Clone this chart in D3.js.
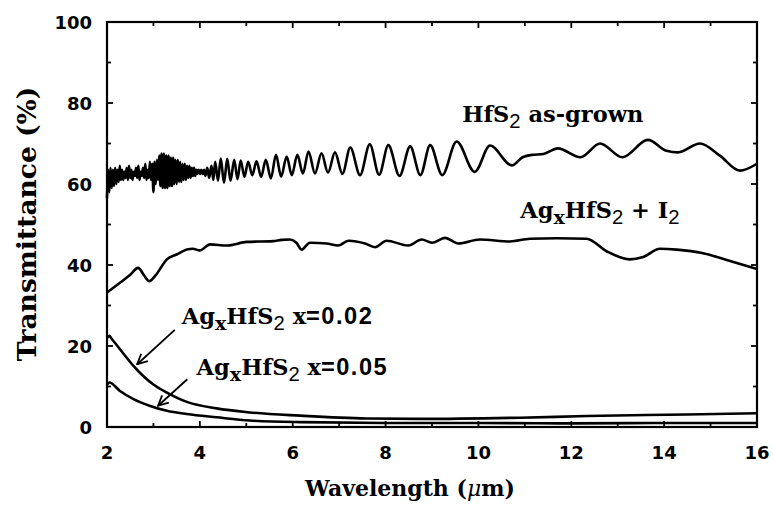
<!DOCTYPE html>
<html><head><meta charset="utf-8">
<script src="https://cdn.jsdelivr.net/npm/d3@7"></script>
<style>
html,body{margin:0;padding:0;background:#fff;}
svg{display:block;}
</style></head><body>
<svg id="chart" width="773" height="505"></svg>
<script>
// Infrared transmittance spectra: [wavelength (µm), transmittance (%)]
const asGrown = [
  [2.000,56.5],[2.025,63.5],[2.050,58.0],[2.075,64.0],[2.100,59.0],[2.125,63.5],[2.150,59.5],[2.175,64.0],
  [2.200,60.0],[2.225,63.5],[2.250,60.5],[2.275,64.5],[2.300,61.0],[2.325,63.5],[2.350,61.0],[2.375,63.0],
  [2.400,61.5],[2.425,64.0],[2.450,61.0],[2.475,64.5],[2.500,61.5],[2.525,63.5],[2.550,61.0],[2.575,63.0],
  [2.600,62.0],[2.625,64.0],[2.650,61.5],[2.675,64.5],[2.700,61.0],[2.725,63.0],[2.750,62.0],[2.775,64.0],
  [2.800,61.5],[2.825,65.0],[2.850,61.0],[2.875,63.5],[2.900,61.5],[2.925,65.5],[2.950,61.0],[2.975,65.0],
  [3.000,58.0],[3.025,65.5],[3.050,60.0],[3.075,66.0],[3.100,61.0],[3.125,67.0],[3.150,59.5],[3.175,67.5],
  [3.200,59.0],[3.225,67.5],[3.250,59.0],[3.275,67.0],[3.300,59.0],[3.325,67.0],[3.350,59.5],[3.375,66.5],
  [3.400,59.5],[3.425,66.5],[3.450,60.0],[3.475,66.0],[3.500,60.0],[3.525,66.0],[3.550,60.5],[3.575,65.5],
  [3.600,60.5],[3.625,65.0],[3.650,61.0],[3.675,65.0],[3.700,61.0],[3.725,64.5],[3.750,61.5],[3.775,64.5],
  [3.800,61.5],[3.825,64.0],[3.850,62.0],[3.875,64.0],[3.900,62.0],[3.925,63.5],[3.950,62.5],[3.975,63.5],
  [4.000,62.5],[4.030,63.5],[4.060,62.5],[4.090,63.5],[4.120,62.0],[4.160,64.0],[4.200,61.5],[4.250,64.5],
  [4.290,61.0],[4.330,65.5],[4.390,60.8],[4.450,66.3],[4.520,60.3],[4.590,66.2],[4.660,60.8],[4.740,66.0],
  [4.810,61.2],[4.880,65.8],[4.960,61.8],[5.040,65.5],[5.130,62.2],[5.220,65.6],[5.320,61.8],[5.420,66.0],
  [5.530,61.4],[5.640,67.2],[5.750,61.8],[5.870,66.8],[5.980,62.2],[6.100,67.2],[6.220,62.6],[6.340,68.0],
  [6.480,62.6],[6.620,67.6],[6.760,62.8],[6.910,67.8],[7.070,62.5],[7.240,69.0],[7.450,62.2],[7.660,69.8],
  [7.860,62.3],[8.060,69.6],[8.300,62.0],[8.530,69.3],[8.750,62.2],[8.960,69.6],[9.220,62.2],[9.530,70.5],
  [9.920,63.0],[10.25,69.5],[10.72,64.6],[10.95,66.6],[11.15,67.2],[11.40,67.4],[11.71,68.8],[12.20,66.6],
  [12.62,70.0],[13.10,66.6],[13.65,70.9],[14.05,68.2],[14.30,67.8],[14.77,70.0],[15.20,67.0],[15.63,63.3],
  [16.00,65.0]
];
const agI2 = [
  [2.00,33.2],[2.30,35.8],[2.50,37.6],[2.67,39.3],[2.80,37.4],[2.91,36.0],[3.05,37.5],[3.29,41.4],
  [3.50,42.6],[3.72,43.8],[3.85,44.0],[4.00,43.6],[4.22,45.1],[4.58,44.8],[5.01,45.7],[5.58,45.9],
  [5.76,46.2],[5.94,46.3],[6.08,45.5],[6.19,43.8],[6.37,45.5],[6.73,45.3],[6.98,44.8],[7.20,46.0],
  [7.56,45.3],[7.77,44.4],[8.02,46.0],[8.49,44.8],[8.78,46.3],[9.00,45.5],[9.28,46.7],[9.57,45.3],
  [10.03,46.3],[10.68,45.8],[11.11,46.5],[11.69,46.6],[12.33,46.5],[12.76,43.4],[13.26,41.4],[13.55,42.0],
  [13.91,44.0],[14.27,43.8],[14.84,42.9],[15.42,41.0],[16.00,39.0]
];
const agX002 = [
  [2.00,22.0],[2.05,22.5],[2.10,21.8],[2.28,19.2],[2.57,15.1],[2.78,12.6],[3.00,10.5],[3.29,8.5],
  [3.72,6.2],[4.36,4.6],[5.08,3.6],[6.16,2.8],[7.59,2.1],[8.74,2.0],[10.90,2.3],[12.33,2.7],
  [14.49,3.1],[16.00,3.4]
];
const agX005 = [
  [2.00,10.4],[2.05,11.0],[2.28,8.9],[2.57,6.9],[2.93,5.2],[3.29,4.0],[3.72,3.2],[4.36,2.4],
  [5.08,1.6],[6.16,1.2],[8.00,1.0],[10.00,1.0],[12.00,0.9],[14.00,1.0],[16.00,1.0]
];

const xTickLabels = [2,4,6,8,10,12,14,16];
const yTickLabels = [0,20,40,60,80,100];
const xMinor = d3.range(2,17,1);
const yMinor = d3.range(0,101,10);

// curve annotations: [wavelength, transmittance] anchors
const labels = [
  {at:[9.65,75.4], parts:[["HfS",0],["2",1],[" as-grown",0]]},
  {at:[10.90,51.5], parts:[["Ag",0],["x",2],["HfS",0],["2",1],[" + I",0],["2",1]]},
  {at:[3.61,25.4], parts:[["Ag",0],["x",2],["HfS",0],["2",1],[" x",0],["=0.02",3]]},
  {at:[3.93,12.8], parts:[["Ag",0],["x",2],["HfS",0],["2",1],[" x",0],["=0.05",3]]}
];
const arrows = [
  {from:[3.46,24.0], to:[2.65,15.5]},
  {from:[3.73,11.8], to:[3.10,5.25]}
];

const svg = d3.select("#chart");
const x = d3.scaleLinear().domain([2,16]).range([107,757]);
const y = d3.scaleLinear().domain([0,100]).range([427,22]);

const serif = "'DejaVu Serif',serif";
const sans = "'DejaVu Sans',sans-serif";
const subSans = "'Liberation Sans',sans-serif";

// frame
svg.append("rect")
  .attr("x",x(2)).attr("y",y(100))
  .attr("width",x(16)-x(2)).attr("height",y(0)-y(100))
  .attr("fill","none").attr("stroke","#000").attr("stroke-width",2.2);

// inward ticks on all four sides
const g = svg.append("g").attr("stroke","#000").attr("stroke-width",1.8);
xMinor.forEach(v=>{
  const L = xTickLabels.includes(v) ? 6 : 4;
  g.append("line").attr("x1",x(v)).attr("x2",x(v)).attr("y1",y(0)).attr("y2",y(0)-L);
  g.append("line").attr("x1",x(v)).attr("x2",x(v)).attr("y1",y(100)).attr("y2",y(100)+L);
});
yMinor.forEach(v=>{
  const L = yTickLabels.includes(v) ? 6 : 4;
  g.append("line").attr("x1",x(2)).attr("x2",x(2)+L).attr("y1",y(v)).attr("y2",y(v));
  g.append("line").attr("x1",x(16)).attr("x2",x(16)-L).attr("y1",y(v)).attr("y2",y(v));
});

// tick labels
svg.append("g").selectAll("text").data(xTickLabels).join("text")
  .attr("x",d=>x(d)).attr("y",459)
  .attr("text-anchor","middle")
  .attr("font-family",sans).attr("font-weight","bold").attr("font-size",18)
  .text(d=>d);
svg.append("g").selectAll("text").data(yTickLabels).join("text")
  .attr("x",92).attr("y",d=>y(d)+6.5)
  .attr("text-anchor","end")
  .attr("font-family",sans).attr("font-weight","bold").attr("font-size",18)
  .text(d=>d);

// axis titles
const xt = svg.append("text")
  .attr("x",410).attr("y",496).attr("text-anchor","middle")
  .attr("font-family",serif).attr("font-weight","bold").attr("font-size",22);
xt.append("tspan").text("Wavelength (");
xt.append("tspan").attr("font-style","italic").attr("font-weight","normal").text("\u03bc");
xt.append("tspan").text("m)");

svg.append("text")
  .attr("transform","translate(36,224) rotate(-90)")
  .attr("text-anchor","middle")
  .attr("font-family",serif).attr("font-weight","bold").attr("font-size",26.5)
  .text("Transmittance (%)");

// spectra
const line = d3.line().x(d=>x(d[0])).y(d=>y(d[1])).curve(d3.curveMonotoneX);
[asGrown, agI2, agX002, agX005].forEach(s=>{
  svg.append("path").datum(s).attr("d",line)
    .attr("fill","none").attr("stroke","#000")
    .attr("stroke-width",2.6).attr("stroke-linejoin","round");
});

// labels with subscripts
const fs = 22.5;
labels.forEach(l=>{
  const t = svg.append("text")
    .attr("x",x(l.at[0])).attr("y",y(l.at[1]))
    .attr("font-family",serif).attr("font-weight","bold").attr("font-size",fs);
  let shifted = false;
  l.parts.forEach(([s,kind])=>{
    const sp = t.append("tspan").text(s);
    const sub = (kind===1 || kind===2);
    if (sub && !shifted) { sp.attr("dy",6); shifted = true; }
    else if (!sub && shifted) { sp.attr("dy",-6); shifted = false; }
    if (kind===1) sp.attr("font-family",subSans).attr("font-weight","normal").attr("font-size",fs*0.9);
    if (kind===2) sp.attr("font-size",fs*0.85);
    if (kind===3) sp.attr("font-family",subSans).attr("font-weight","bold").attr("font-size",fs*1.05)
      .attr("letter-spacing",1.5);
  });
});

// arrows
svg.append("defs").append("marker")
  .attr("id","head").attr("viewBox","0 0 12 12").attr("refX",11).attr("refY",6)
  .attr("markerWidth",12).attr("markerHeight",12).attr("markerUnits","userSpaceOnUse")
  .attr("orient","auto")
  .append("path").attr("d","M1,1 L11,6 L1,11").attr("fill","none")
  .attr("stroke","#000").attr("stroke-width",1.8);
arrows.forEach(a=>{
  svg.append("line")
    .attr("x1",x(a.from[0])).attr("y1",y(a.from[1]))
    .attr("x2",x(a.to[0])).attr("y2",y(a.to[1]))
    .attr("stroke","#000").attr("stroke-width",1.8)
    .attr("marker-end","url(#head)");
});
</script>
</body></html>
